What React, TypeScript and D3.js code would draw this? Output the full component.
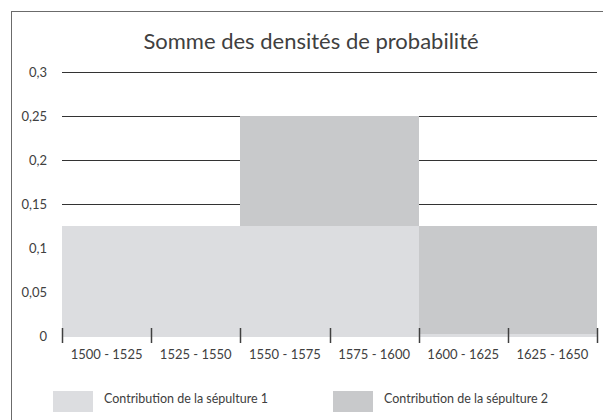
import * as d3 from "d3";

// data
const categories = ["1500 - 1525", "1525 - 1550", "1550 - 1575", "1575 - 1600", "1600 - 1625", "1625 - 1650"];
const sepulture1 = [0.125, 0.125, 0.125, 0.125, 0, 0];
const sepulture2 = [0, 0, 0.125, 0.125, 0.125, 0.125];
const seriesNames = ["Contribution de la sépulture 1", "Contribution de la sépulture 2"];
const yTicks = [0, 0.05, 0.1, 0.15, 0.2, 0.25, 0.3];

const colors = ["#dcdde0", "#c8c9cb"];
const font = "Lato, 'Open Sans', sans-serif";

export default function App() {
  const width = 603;
  const height = 420;
  const margin = { left: 62, right: 6, top: 72, bottom: 84 };

  const x = d3
    .scaleBand()
    .domain(categories)
    .range([margin.left, width - margin.right])
    .padding(0);
  const y = d3.scaleLinear().domain([0, 0.3]).range([height - margin.bottom, margin.top]);

  const rows = categories.map((c, i) => ({ cat: c, s1: sepulture1[i], s2: sepulture2[i] }));
  const stacked = d3.stack<any>().keys(["s1", "s2"])(rows);

  const fmt = (v: number) => String(v).replace(".", ",");
  const x0 = x.range()[0];
  const x1 = x.range()[1];
  const tickXs = categories.map((c) => x(c) as number).concat([x1]);
  const r = Math.round;

  return (
    <svg width={width} height={height} style={{ position: "absolute", left: 0, top: 0 }}>
      <rect x={11.5} y={11.5} width={620} height={430} fill="#fff" stroke="#6b6b6b" />
      <text x={311} y={49} textAnchor="middle" fontFamily={font} fontSize={22} fill="#404040">
        Somme des densités de probabilité
      </text>
      {/* gridlines */}
      {yTicks.map((t) => (
        <line key={t} x1={x0} x2={x1} y1={r(y(t)) + 0.5} y2={r(y(t)) + 0.5} stroke="#333" strokeWidth={1} />
      ))}
      {/* bars */}
      {stacked.map((s, si) => (
        <g key={si} fill={colors[si]} shapeRendering="crispEdges">
          {s.map((d: any, i: number) => {
            if (d[1] - d[0] <= 0) return null;
            const bx = r(x(categories[i]) as number);
            const bx2 = r((x(categories[i]) as number) + x.bandwidth());
            return (
              <rect key={i} x={bx} y={r(y(d[1]))} width={bx2 - bx} height={r(y(d[0])) - r(y(d[1]))} />
            );
          })}
        </g>
      ))}
      {/* baseline */}
      <rect x={x0} y={r(y(0)) - 2} width={x1 - x0} height={3} fill="#dcdde0" shapeRendering="crispEdges" />
      {/* x ticks */}
      {tickXs.map((tx, i) => (
        <line key={i} x1={r(tx) + 0.5} x2={r(tx) + 0.5} y1={y(0) - 8} y2={y(0) + 7} stroke="#404040" strokeWidth={1.5} />
      ))}
      {categories.map((c) => (
        <text
          key={c}
          x={(x(c) as number) + x.bandwidth() / 2}
          y={y(0) + 23}
          textAnchor="middle"
          fontFamily={font}
          fontSize={13}
          fill="#404040"
        >
          {c}
        </text>
      ))}
      {/* y labels */}
      {yTicks.map((t) => (
        <text key={t} x={47} y={y(t) + 4.5} textAnchor="end" fontFamily={font} fontSize={13} fill="#404040">
          {fmt(t)}
        </text>
      ))}
      {/* legend */}
      {seriesNames.map((n, i) => (
        <g key={n} transform={`translate(${53 + i * 280}, 391)`}>
          <rect width={40} height={21} fill={colors[i]} />
          <text x={51} y={12} fontFamily={font} fontSize={12.5} fill="#404040">
            {n}
          </text>
        </g>
      ))}
    </svg>
  );
}
